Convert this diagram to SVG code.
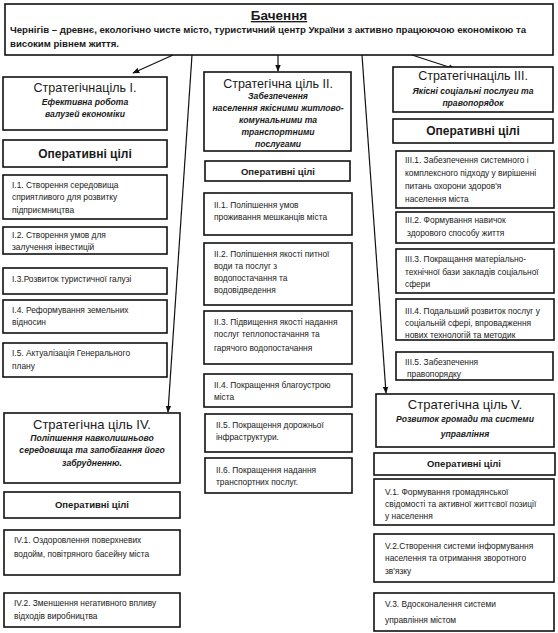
<svg xmlns="http://www.w3.org/2000/svg" width="558" height="633" viewBox="0 0 558 633">
<defs>
<marker id="ah" viewBox="0 0 10 10" refX="9" refY="5" markerWidth="7" markerHeight="7" orient="auto" markerUnits="userSpaceOnUse">
<path d="M0,1 L10,5 L0,9 z" fill="#111"/>
</marker>
<style>
.b{fill:#fff;stroke:#111;stroke-width:1.6}
text{font-family:"Liberation Sans",Arial,sans-serif;fill:#1a1a1a}
.h{font-size:12.5px;text-anchor:middle}
.it{font-size:8.6px;font-style:italic;font-weight:bold;text-anchor:middle}
.op{font-size:12px;text-anchor:middle;font-weight:bold}
.ops{font-size:9.5px;text-anchor:middle;font-weight:bold}
.t{font-size:8.4px}
.c{stroke:#111;stroke-width:1.2;fill:none;marker-end:url(#ah)}
</style>
</defs>
<rect width="558" height="633" fill="#fff"/>
<g id="vision">
<rect class="b" x="5" y="4" width="548" height="51"/>
<text x="279" y="20" style="font-size:13.5px;font-weight:bold;text-anchor:middle;text-decoration:underline">Бачення</text>
<text x="10" y="33" style="font-size:9.6px;font-weight:bold" textLength="516" lengthAdjust="spacingAndGlyphs">Чернігів – древнє, екологічно чисте місто, туристичний центр України з активно працюючою економікою та</text>
<text x="10" y="47" style="font-size:9.6px;font-weight:bold">високим рівнем життя.</text>
</g>
<g id="connectors">
<line class="c" x1="173" y1="55" x2="133" y2="73"/>
<line class="c" x1="192" y1="55" x2="168" y2="412"/>
<line class="c" x1="278" y1="55" x2="278" y2="71"/>
<line class="c" x1="362" y1="55" x2="386" y2="393"/>
<line class="c" x1="412" y1="55" x2="455" y2="69"/>
</g>
<g id="goal1">
<rect class="b" x="3" y="77" width="164" height="53"/>
<text class="h" x="85" y="92">Стратегічнаціль I.</text>
<text class="it" x="85" y="105">Ефективна робота</text>
<text class="it" x="85" y="117">валузей економіки</text>
</g>
<g id="op1">
<rect class="b" x="3" y="140" width="164" height="27"/>
<text class="op" x="85" y="158">Оперативні цілі</text>
</g>
<g id="g1-1">
<rect class="b" x="3" y="175" width="164" height="44"/>
<text class="t" x="12" y="188">I.1. Створення середовища</text>
<text class="t" x="12" y="200">сприятливого для розвитку</text>
<text class="t" x="12" y="213">підприємництва</text>
</g>
<g id="g1-2">
<rect class="b" x="3" y="227" width="164" height="27"/>
<text class="t" x="12" y="238">I.2. Створення умов для</text>
<text class="t" x="12" y="250">залучення інвестицій</text>
</g>
<g id="g1-3">
<rect class="b" x="3" y="268" width="164" height="26"/>
<text class="t" x="12" y="282">I.3.Розвиток туристичної галузі</text>
</g>
<g id="g1-4">
<rect class="b" x="3" y="300" width="164" height="33"/>
<text class="t" x="12" y="313">I.4. Реформування земельних</text>
<text class="t" x="12" y="325">відносин</text>
</g>
<g id="g1-5">
<rect class="b" x="3" y="343" width="164" height="34"/>
<text class="t" x="12" y="356">I.5. Актуалізація Генерального</text>
<text class="t" x="12" y="369">плану</text>
</g>
<g id="goal4">
<rect class="b" x="4" y="413" width="176" height="70"/>
<text class="h" x="92" y="429" style="font-size:13px">Стратегічна ціль IV.</text>
<text class="it" x="92" y="441">Поліпшення навколишньово</text>
<text class="it" x="92" y="453">середовища та запобігання його</text>
<text class="it" x="92" y="466">забрудненню.</text>
</g>
<g id="op4">
<rect class="b" x="4" y="492" width="176" height="26"/>
<text class="ops" x="92" y="508">Оперативні цілі</text>
</g>
<g id="g4-1">
<rect class="b" x="4" y="530" width="176" height="45"/>
<text class="t" x="14" y="543">IV.1. Оздоровлення поверхневих</text>
<text class="t" x="14" y="557">водойм, повітряного басейну міста</text>
</g>
<g id="g4-2">
<rect class="b" x="4" y="593" width="176" height="34"/>
<text class="t" x="14" y="606">IV.2. Зменшення негативного впливу</text>
<text class="t" x="14" y="619">відходів виробництва</text>
</g>
<g id="goal2">
<rect class="b" x="204" y="72" width="147" height="79"/>
<text class="h" x="278" y="88">Стратегічна ціль II.</text>
<text class="it" x="278" y="99">Забезпечення</text>
<text class="it" x="278" y="111">населення якісними житлово-</text>
<text class="it" x="278" y="123">комунальними та</text>
<text class="it" x="278" y="135">транспортними</text>
<text class="it" x="278" y="147">послугами</text>
</g>
<g id="op2">
<rect class="b" x="205" y="161" width="145" height="20"/>
<text class="ops" x="278" y="175">Оперативні цілі</text>
</g>
<g id="g2-1">
<rect class="b" x="204" y="193" width="148" height="42"/>
<text class="t" x="214" y="208">II.1. Поліпшення умов</text>
<text class="t" x="214" y="220">проживання мешканців міста</text>
</g>
<g id="g2-2">
<rect class="b" x="204" y="243" width="148" height="62"/>
<text class="t" x="214" y="257">II.2. Поліпшення якості питної</text>
<text class="t" x="214" y="269">води та послуг з</text>
<text class="t" x="214" y="281">водопостачання та</text>
<text class="t" x="214" y="293">водовідведення</text>
</g>
<g id="g2-3">
<rect class="b" x="204" y="311" width="148" height="53"/>
<text class="t" x="214" y="325">II.3. Підвищення якості надання</text>
<text class="t" x="214" y="337">послуг теплопостачання та</text>
<text class="t" x="214" y="351">гарячого водопостачання</text>
</g>
<g id="g2-4">
<rect class="b" x="204" y="374" width="148" height="33"/>
<text class="t" x="214" y="388">II.4. Покращення благоустрою</text>
<text class="t" x="214" y="400">міста</text>
</g>
<g id="g2-5">
<rect class="b" x="205" y="414" width="147" height="38"/>
<text class="t" x="216" y="428">II.5. Покращення дорожньої</text>
<text class="t" x="216" y="440">інфраструктури.</text>
</g>
<g id="g2-6">
<rect class="b" x="205" y="458" width="147" height="35"/>
<text class="t" x="216" y="473">II.6. Покращення надання</text>
<text class="t" x="216" y="485">транспортних послуг.</text>
</g>
<g id="goal3">
<rect class="b" x="393" y="67" width="160" height="45"/>
<text class="h" x="473" y="80">Стратегічнаціль III.</text>
<text class="it" x="473" y="94">Якісні соціальні послуги та</text>
<text class="it" x="473" y="106">правопорядок</text>
</g>
<g id="op3">
<rect class="b" x="393" y="119" width="160" height="24"/>
<text class="op" x="473" y="135">Оперативні цілі</text>
</g>
<g id="g3-1">
<rect class="b" x="396" y="151" width="158" height="57"/>
<text class="t" x="405" y="163">III.1. Забезпечення системного і</text>
<text class="t" x="405" y="176">комплексного підходу у вирішенні</text>
<text class="t" x="405" y="189">питань охорони здоров'я</text>
<text class="t" x="405" y="202">населення міста</text>
</g>
<g id="g3-2">
<rect class="b" x="396" y="212" width="158" height="31"/>
<text class="t" x="405" y="223">III.2. Формування навичок</text>
<text class="t" x="407" y="236">здорового способу життя</text>
</g>
<g id="g3-3">
<rect class="b" x="396" y="249" width="158" height="44"/>
<text class="t" x="405" y="262">III.3. Покращання матеріально-</text>
<text class="t" x="405" y="275">технічної бази закладів соціальної</text>
<text class="t" x="405" y="287">сфери</text>
</g>
<g id="g3-4">
<rect class="b" x="396" y="299" width="158" height="41"/>
<text class="t" x="405" y="314">III.4. Подальший розвиток послуг у</text>
<text class="t" x="405" y="326">соціальній сфері, впровадження</text>
<text class="t" x="405" y="338">нових технологій та методик</text>
</g>
<g id="g3-5">
<rect class="b" x="396" y="352" width="157" height="28"/>
<text class="t" x="405" y="365">III.5. Забезпечення</text>
<text class="t" x="407" y="377">правопорядку</text>
</g>
<g id="goal5">
<rect class="b" x="376" y="394" width="178" height="53"/>
<text class="h" x="465" y="409" style="font-size:13px">Стратегічна ціль V.</text>
<text class="it" x="465" y="422">Розвиток громади та системи</text>
<text class="it" x="465" y="437">управління</text>
</g>
<g id="op5">
<rect class="b" x="374" y="453" width="181" height="22"/>
<text class="ops" x="464" y="467">Оперативні цілі</text>
</g>
<g id="g5-1">
<rect class="b" x="374" y="479" width="180" height="46"/>
<text class="t" x="385" y="495">V.1. Формування громадянської</text>
<text class="t" x="385" y="507">свідомості та активної життєвої позиції</text>
<text class="t" x="385" y="519">у населення</text>
</g>
<g id="g5-2">
<rect class="b" x="374" y="534" width="180" height="48"/>
<text class="t" x="385" y="549">V.2.Створення системи інформування</text>
<text class="t" x="385" y="561">населення та отримання зворотного</text>
<text class="t" x="385" y="574">зв'язку</text>
</g>
<g id="g5-3">
<rect class="b" x="374" y="593" width="180" height="38"/>
<text class="t" x="385" y="607">V.3. Вдосконалення системи</text>
<text class="t" x="385" y="623">управління містом</text>
</g>
</svg>
